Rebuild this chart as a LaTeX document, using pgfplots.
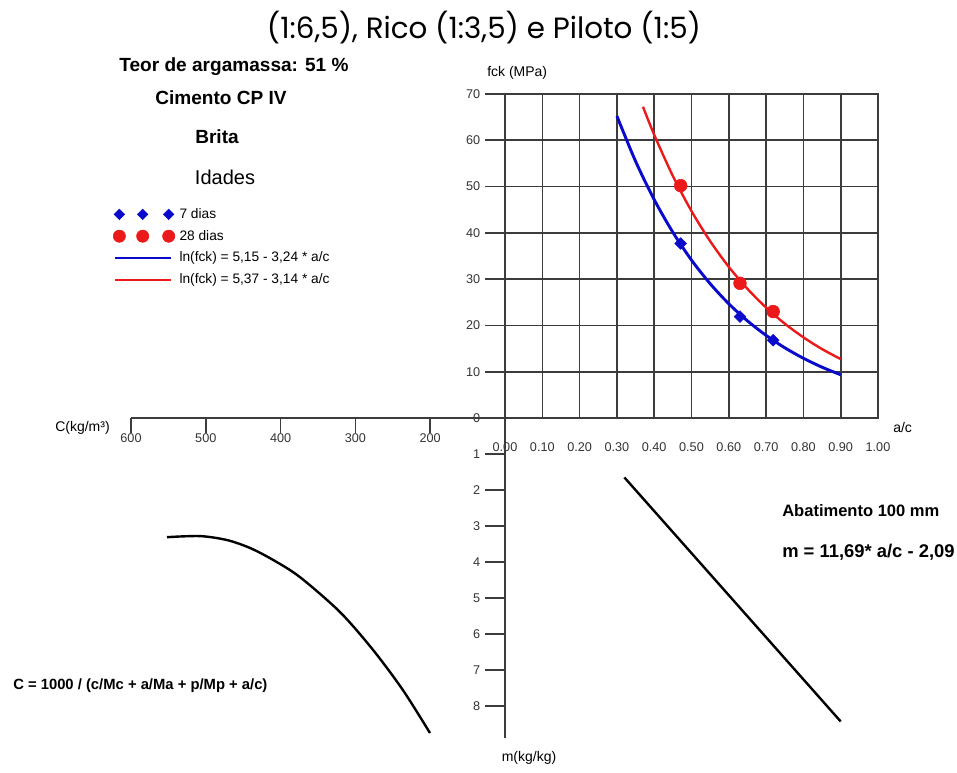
\documentclass[border=0pt]{standalone}
\usepackage{pgfplots}
\pgfplotsset{compat=1.18}
\usepackage{fontspec}
\setmainfont{Liberation Sans}
\newfontfamily\titlefont{Poppins}
\definecolor{cblue}{RGB}{10,10,205}
\definecolor{cred}{RGB}{235,25,25}
\definecolor{gridc}{RGB}{60,60,60}
\newcommand{\fs}[1]{\fontsize{#1}{#1}\selectfont}

\begin{document}
\begin{tikzpicture}
\useasboundingbox (0,0) rectangle (717.75pt,-579pt);

% quadrante 1: fck x a/c
\begin{axis}[
  at={(378.75pt,-313.5pt)}, anchor=south west,
  scale only axis, width=279.75pt, height=243pt,
  xmin=0, xmax=1, ymin=0, ymax=70,
  xtick={0,0.1,0.2,0.3,0.4,0.5,0.6,0.7,0.8,0.9,1},
  ytick={0,10,20,30,40,50,60,70},
  grid=major, major grid style={gridc, line width=1.2pt},
  axis line style={gridc, line width=1.2pt},
  tick pos=left, tick align=outside, major tick length=15pt,
  xtick style={draw=none},
  ytick style={gridc, line width=1.2pt},
  /pgf/number format/assume math mode=true,
  ticklabel style={font=\fs{9.5}, text=black!80},
  xticklabel style={/pgf/number format/fixed, /pgf/number format/fixed zerofill, /pgf/number format/precision=2},
  legend style={at={(axis description cs:-1.051,0.656)}, anchor=north west,
    draw=none, fill=none, font=\fs{10.3}, row sep=3.4pt, inner sep=0pt,
    column sep=1.5pt, cells={anchor=west}},
  legend cell align=left,
]
\addplot[only marks, mark=square*, mark size=3.1pt, color=cblue,
  mark options={rotate=45},
  legend image code/.code={\draw[cblue, only marks, mark=square*, mark size=2.8pt, mark options={rotate=45}] plot coordinates {(0pt,0pt) (17.5pt,0pt) (37pt,0pt)};}]
  coordinates {(0.471,37.7) (0.630,21.9) (0.719,16.8)};
\addlegendentry{7 dias}
\addplot[only marks, mark=*, mark size=4.8pt, color=cred,
  legend image code/.code={\draw[cred, fill=cred, only marks, mark=*, mark size=4.6pt] plot coordinates {(0pt,0pt) (17.5pt,0pt) (37pt,0pt)};}]
  coordinates {(0.471,50.2) (0.630,29.1) (0.719,23.0)};
\addlegendentry{28 dias}
\addplot[cblue, line width=2.2pt, smooth, mark=none,
  legend image code/.code={\draw[draw=cblue, line width=1.9pt] (-3pt,0pt) -- (39pt,0pt);}]
  coordinates {(0.30,65.24) (0.35,55.48) (0.40,47.18) (0.45,40.13) (0.50,34.12)
   (0.55,29.02) (0.60,24.68) (0.65,20.99) (0.70,17.85) (0.75,15.18)
   (0.80,12.91) (0.85,10.98) (0.90,9.34)};
\addlegendentry{ln(fck) = 5,15 - 3,24 * a/c}
\addplot[cred, line width=1.8pt, smooth, mark=none,
  legend image code/.code={\draw[draw=cred, line width=1.1pt] (-3pt,0pt) -- (39pt,0pt);}]
  coordinates {(0.37,67.24) (0.40,61.19) (0.45,52.30) (0.50,44.70) (0.55,38.21)
   (0.60,32.65) (0.65,27.91) (0.70,23.86) (0.75,20.39) (0.80,17.43)
   (0.85,14.89) (0.90,12.73)};
\addlegendentry{ln(fck) = 5,37 - 3,14 * a/c}
\end{axis}

% quadrante 2: m x a/c
\begin{axis}[
  at={(378.75pt,-313.5pt)}, anchor=north west,
  scale only axis, width=279.75pt, height=240.3pt,
  xmin=0, xmax=1, ymin=0, ymax=8.9, y dir=reverse,
  axis x line=none, axis y line*=left,
  axis line style={gridc, line width=1.2pt, -},
  ytick={1,2,3,4,5,6,7,8},
  tick align=outside, major tick length=15pt,
  ytick style={gridc, line width=1.2pt},
  /pgf/number format/assume math mode=true,
  ticklabel style={font=\fs{9.5}, text=black!80},
]
\addplot[black, line width=1.8pt, mark=none] coordinates {(0.32,1.65) (0.90,8.43)};
\end{axis}

% quadrante 3: C x m
\begin{axis}[
  at={(378.75pt,-313.5pt)}, anchor=north east,
  scale only axis, width=280.5pt, height=240.3pt,
  xmin=100, xmax=600, x dir=reverse, ymin=0, ymax=8.9, y dir=reverse,
  axis x line*=top, axis y line=none,
  axis line style={gridc, line width=1.2pt, -},
  xtick={200,300,400,500,600},
  tick align=inside, major tick length=11.25pt,
  xtick style={gridc, line width=1.2pt},
  /pgf/number format/assume math mode=true,
  ticklabel style={font=\fs{9.5}, text=black!80},
  xticklabel style={anchor=north, yshift=-8.5pt},
]
\addplot[black, line width=1.8pt, smooth, mark=none] coordinates {
  (551.9,3.31) (507.8,3.28) (471.7,3.39) (440.9,3.61) (410.2,3.94)
  (374.1,4.42) (320.6,5.39) (276.5,6.44) (236.4,7.56) (200.3,8.75)};
\end{axis}

\begin{scope}[x=0.75pt, y=-0.75pt]
\node[font=\titlefont\fs{22}] at (484,28) {(1:6,5), Rico (1:3,5) e Piloto (1:5)};
\node[font=\bfseries\fs{14.3}] at (234,67) {Teor de argamassa: 51 \%};
\node[font=\bfseries\fs{14.3}] at (221,98) {Cimento CP IV};
\node[font=\bfseries\fs{14.3}] at (217,137) {Brita};
\node[font=\fs{15}] at (225,177) {Idades};
\node[font=\fs{10.5}, anchor=west, inner sep=0pt] at (487,73) {fck (MPa)};
\node[font=\fs{10.5}, anchor=west, inner sep=0pt] at (893,427) {a/c};
\node[font=\fs{10.5}, anchor=west, inner sep=0pt] at (55,428) {C(kg/m³)};
\node[font=\fs{10.5}, inner sep=0pt] at (529,758) {m(kg/kg)};
\node[font=\bfseries\fs{12.4}, anchor=west, inner sep=0pt] at (782,511) {Abatimento 100 mm};
\node[font=\bfseries\fs{13.8}, anchor=west, inner sep=0pt] at (782,552) {m = 11,69* a/c - 2,09};
\node[font=\bfseries\fs{11.1}, anchor=west, inner sep=0pt] at (13,686) {C = 1000 / (c/Mc + a/Ma + p/Mp + a/c)};
\end{scope}
\end{tikzpicture}
\end{document}
